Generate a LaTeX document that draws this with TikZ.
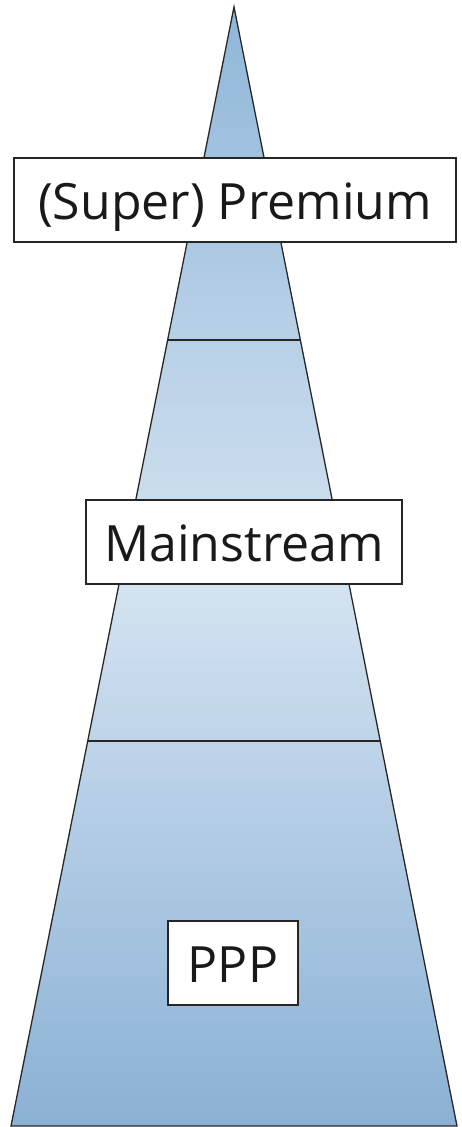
\documentclass[tikz,border=0pt]{standalone}
\usepackage{fontspec}
\setmainfont{Open Sans}
\definecolor{topc}{RGB}{143,182,216}
\definecolor{midc}{RGB}{212,227,241}
\definecolor{botc}{RGB}{139,177,213}
\begin{document}
\begin{tikzpicture}[x=1pt,y=1pt,
  outline/.style={draw=black!85,line width=1.3pt,line join=miter},
  divider/.style={draw=black!85,line width=1.1pt},
  label/.style={draw=black!85,line width=1.1pt,fill=white,inner xsep=0pt,inner ysep=0pt,
    text height=62pt,text depth=22pt,
    font=\fontsize{50}{56}\selectfont,text=black!90,anchor=base}]
\useasboundingbox (0,0) rectangle (461,1127);
% pyramid corners
\coordinate (apex) at (234,1120);
\coordinate (bl) at (11,1);
\coordinate (br) at (457,1);
% dividing levels
\coordinate (l1) at (167.6,787);
\coordinate (r1) at (300.4,787);
\coordinate (l2) at (87.7,386);
\coordinate (r2) at (380.3,386);
% gradient fill in thin strips: dark at both ends, pale around the middle
\begin{scope}
  \clip (apex) -- (br) -- (bl) -- cycle;
  \foreach \i in {0,...,224}{
    \pgfmathsetmacro{\yy}{\i*5}
    \ifdim\yy pt<547pt
      \pgfmathsetmacro{\p}{min(100,(547-\yy)/5.47)}
      \colorlet{strip}{botc!\p!midc}
    \else
      \pgfmathsetmacro{\p}{min(100,(\yy-547)/5.73)}
      \colorlet{strip}{topc!\p!midc}
    \fi
    \fill[strip] (0,\yy) rectangle (461,\yy+5.6);
  }
\end{scope}
\draw[outline] (apex) -- (br) -- (bl) -- cycle;
\draw[divider] (l1) -- (r1);
\draw[divider] (l2) -- (r2);
% level labels
\node[label,minimum width=442] (premium) at (235,907) {(Super) Premium};
\node[label,minimum width=316] (mainstream) at (244,565) {Mainstream};
\node[label,minimum width=130] (ppp) at (233,144) {PPP};
\end{tikzpicture}
\end{document}
